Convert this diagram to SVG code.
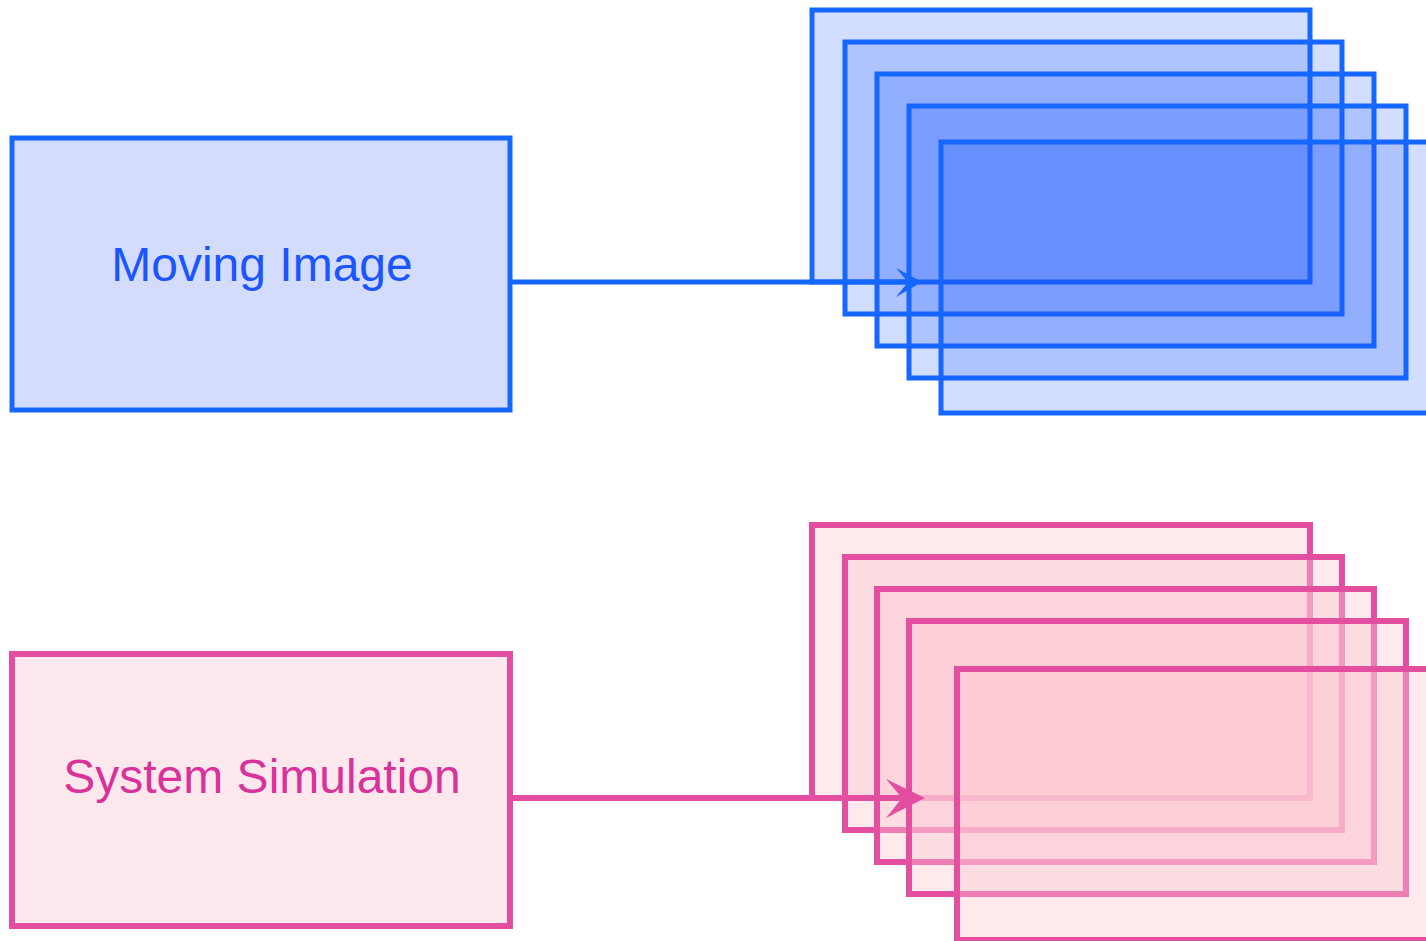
<svg xmlns="http://www.w3.org/2000/svg" width="1426" height="941" viewBox="0 0 1426 941">
<style>
.bs{fill:#1e5aff;fill-opacity:0.2;stroke:#1567ff;stroke-width:5}
.bbox{fill:#d3dcfd;stroke:#1567ff;stroke-width:5}
.ps{fill:#fcc8d2;fill-opacity:0.4;stroke:#e34ea0;stroke-width:6}
.pbox{fill:#fde9ed;stroke:#e34ea0;stroke-width:6}
.lbl{font-family:"Liberation Sans",Arial,sans-serif;font-size:48px;text-anchor:middle}
</style>
<rect width="1426" height="941" fill="#ffffff"/>
<g id="moving-image-stack">
<rect class="bs" x="812" y="10" width="498" height="272"/>
<rect class="bs" x="845" y="42" width="497" height="272"/>
<rect class="bs" x="877" y="74" width="497" height="272"/>
<rect class="bs" x="909" y="106" width="497" height="272"/>
<rect class="bs" x="941" y="142" width="500" height="271"/>
</g>
<g id="system-simulation-stack">
<rect class="ps" x="812" y="525" width="498" height="273"/>
<rect class="ps" x="845" y="557" width="497" height="273"/>
<rect class="ps" x="877" y="589" width="497" height="273"/>
<rect class="ps" x="909" y="621" width="497" height="273"/>
<rect class="ps" x="957" y="669" width="490" height="271"/>
</g>
<g id="moving-image">
<rect class="bbox" x="12" y="138" width="498" height="272"/>
<text class="lbl" x="262" y="281" fill="#1a55ff">Moving Image</text>
</g>
<g id="system-simulation">
<rect class="pbox" x="12" y="654" width="498" height="272"/>
<text class="lbl" x="262" y="793" fill="#d9329a">System Simulation</text>
</g>
<g id="connectors">
<line x1="510" y1="282" x2="912" y2="282" stroke="#1567ff" stroke-width="5"/>
<polygon points="922,282 896,268 908,282 896,297" fill="#1567ff"/>
<line x1="510" y1="798" x2="905" y2="798" stroke="#e34ea0" stroke-width="6"/>
<polygon points="925,798 886,779 902,798 886,818" fill="#e34ea0"/>
</g>
</svg>
